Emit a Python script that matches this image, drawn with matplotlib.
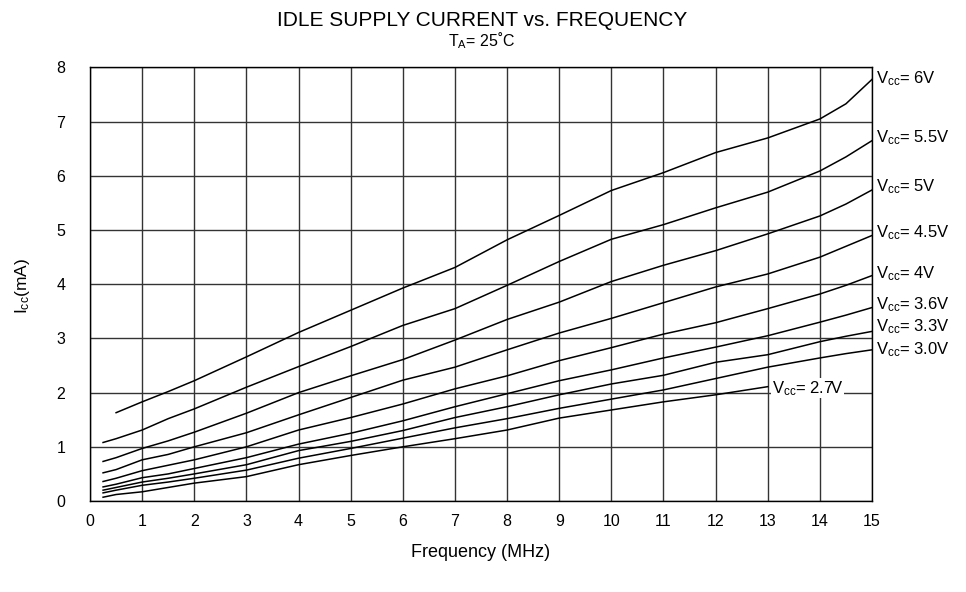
import matplotlib
matplotlib.use('Agg')
import matplotlib.pyplot as plt
import numpy as np

plt.rcParams['font.family'] = ['Liberation Sans', 'DejaVu Sans']
plt.rcParams['mathtext.fontset'] = 'custom'
plt.rcParams['mathtext.rm'] = 'Liberation Sans'
plt.rcParams['mathtext.it'] = 'Liberation Sans:italic'

# frequency points (MHz) shared by the supply curves
freq = [0.25, 0.5, 1, 1.5, 2, 3, 4, 5, 6, 7, 8, 9, 10, 11, 12, 13, 14, 14.5, 15]

# Icc (mA) for each supply voltage, NaN where the curve is not drawn
icc_6v0 = [np.nan, 1.63, 1.83, 2.02, 2.22, 2.66, 3.11, 3.52, 3.93, 4.31, 4.82, 5.27, 5.73, 6.06, 6.43, 6.70, 7.05, 7.33, 7.78]
icc_5v5 = [1.08, 1.15, 1.31, 1.52, 1.70, 2.10, 2.48, 2.85, 3.24, 3.55, 3.98, 4.42, 4.83, 5.10, 5.41, 5.70, 6.09, 6.35, 6.65]
icc_5v0 = [0.73, 0.80, 0.97, 1.11, 1.27, 1.62, 2.00, 2.31, 2.61, 2.97, 3.35, 3.67, 4.05, 4.35, 4.62, 4.93, 5.26, 5.48, 5.74]
icc_4v5 = [0.52, 0.58, 0.76, 0.86, 1.00, 1.26, 1.59, 1.91, 2.23, 2.47, 2.79, 3.10, 3.37, 3.66, 3.95, 4.19, 4.50, 4.70, 4.90]
icc_4v0 = [0.36, 0.42, 0.56, 0.66, 0.76, 1.00, 1.31, 1.54, 1.79, 2.07, 2.31, 2.59, 2.83, 3.08, 3.29, 3.55, 3.82, 3.98, 4.16]
icc_3v6 = [0.26, 0.31, 0.43, 0.50, 0.60, 0.80, 1.05, 1.25, 1.48, 1.74, 1.98, 2.22, 2.42, 2.64, 2.84, 3.05, 3.30, 3.43, 3.57]
icc_3v3 = [0.20, 0.25, 0.35, 0.42, 0.50, 0.67, 0.93, 1.10, 1.30, 1.54, 1.74, 1.96, 2.16, 2.32, 2.56, 2.70, 2.94, 3.04, 3.13]
icc_3v0 = [0.15, 0.20, 0.29, 0.35, 0.42, 0.57, 0.79, 0.97, 1.16, 1.35, 1.52, 1.71, 1.88, 2.05, 2.26, 2.47, 2.64, 2.72, 2.79]
icc_2v7 = [0.07, 0.12, 0.17, 0.25, 0.33, 0.45, 0.67, 0.84, 1.00, 1.15, 1.31, 1.53, 1.68, 1.83, 1.96, 2.11, np.nan, np.nan, np.nan]

curves = [icc_6v0, icc_5v5, icc_5v0, icc_4v5, icc_4v0, icc_3v6, icc_3v3, icc_3v0, icc_2v7]
vcc_names = ['6V', '5.5V', '5V', '4.5V', '4V', '3.6V', '3.3V', '3.0V', '2.7V']
# vertical place of each label at the right edge
label_y = [7.8, 6.7, 5.8, 4.95, 4.2, 3.63, 3.22, 2.8, 2.08]

fig = plt.figure(figsize=(9.66, 5.92), dpi=100)
ax = fig.add_axes([0.0932, 0.1537, 0.8095, 0.7323])

for x in range(0, 16):
	ax.axvline(x, color='#333333', lw=1.0, zorder=1)
for y in range(0, 9):
	ax.axhline(y, color='#333333', lw=1.0, zorder=1)

for icc in curves:
	ax.plot(freq, icc, color='black', lw=1.1, zorder=3)

ax.set_xlim(0, 15)
ax.set_ylim(0, 8)
ax.set_xticks(range(0, 16))
ax.set_yticks(range(0, 9))
ax.tick_params(length=0, labelsize=11.5, pad=9)
ax.tick_params(axis='y', pad=21)
for yl in ax.get_yticklabels():
	yl.set_horizontalalignment('center')
for s in ax.spines.values():
	s.set_color('black')
	s.set_linewidth(1.0)

for name, y in zip(vcc_names[:-1], label_y[:-1]):
	ax.text(15.07, y, r'V$_{\mathrm{cc}}$= ' + name, fontsize=12,
		ha='left', va='center', clip_on=False)
ax.text(13.08, label_y[-1], r'V$_{\mathrm{cc}}$= ' + vcc_names[-1], fontsize=12,
	ha='left', va='center', zorder=4,
	bbox=dict(facecolor='white', edgecolor='none', pad=0.5))

ax.set_xlabel('Frequency (MHz)', fontsize=13, labelpad=11)
fig.text(0.023, 0.517, r'I$_{\mathrm{cc}}$(mA)', rotation=90, fontsize=12.5,
	ha='center', va='center')

fig.text(0.499, 0.966, 'IDLE SUPPLY CURRENT vs. FREQUENCY', fontsize=15,
	ha='center', va='center')
fig.text(0.499, 0.931, r'T$_{\mathrm{A}}$= 25˚C', fontsize=11.5,
	ha='center', va='center')

fig.savefig('out.png', dpi=100)
